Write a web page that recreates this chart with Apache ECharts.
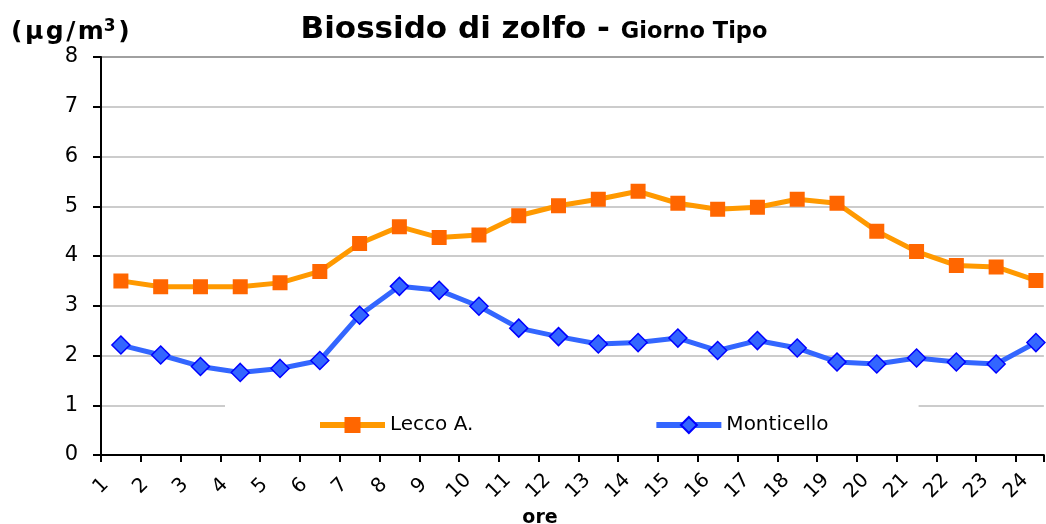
<!DOCTYPE html>
<html>
<head>
<meta charset="utf-8">
<script src="https://cdn.jsdelivr.net/npm/echarts@6/dist/echarts.min.js"></script>
<style>html,body{margin:0;padding:0;background:#fff;}#c{width:1046px;height:524px;}</style>
</head>
<body>
<div id="c"></div>
<script>
const hours = [1,2,3,4,5,6,7,8,9,10,11,12,13,14,15,16,17,18,19,20,21,22,23,24];
const lecco = [3.50,3.38,3.38,3.38,3.46,3.69,4.25,4.59,4.37,4.42,4.81,5.01,5.14,5.30,5.06,4.94,4.98,5.14,5.06,4.50,4.09,3.81,3.78,3.51];
const monticello = [2.21,2.01,1.78,1.66,1.74,1.90,2.81,3.39,3.31,2.99,2.55,2.38,2.23,2.26,2.35,2.10,2.30,2.15,1.87,1.83,1.95,1.87,1.83,2.26];
const yTicks = [0,1,2,3,4,5,6,7,8];

const FONT = '"DejaVu Sans", Verdana, sans-serif';
const squareX = 'path://M0,0L10,0L10,10L0,10Z' +
  'M3.2,3.85L3.85,3.2L5,4.35L6.15,3.2L6.8,3.85L5.65,5L6.8,6.15L6.15,6.8L5,5.65L3.85,6.8L3.2,6.15L4.35,5Z';
const HS = '\u200A';
const splitColors = yTicks.map(v => v === 8 ? '#808080' : '#bbbbbb');

const chart = echarts.init(document.getElementById('c'), null, {renderer: 'canvas'});
chart.setOption({
  backgroundColor: '#fff',
  animation: false,
  title: [
    {
      text: '{a|Biossido di zolfo - }{b|Giorno Tipo}',
      left: 529, top: 9, textAlign: 'center',
      textStyle: {
        rich: {
          a: {fontFamily: FONT, fontWeight: 'bold', fontSize: 31, color: '#000'},
          b: {fontFamily: FONT, fontWeight: 'bold', fontSize: 22.5, color: '#000', padding: [5,0,0,0]}
        }
      }
    },
    {
      text: '{t|(' + HS + 'µ' + HS + 'g' + HS + '/' + HS + 'm}{s|3}{t|' + HS + ')}',
      left: 6, top: 13,
      textStyle: {
        rich: {
          t: {fontFamily: FONT, fontWeight: 'bold', fontSize: 25, color: '#000'},
          s: {fontFamily: FONT, fontWeight: 'bold', fontSize: 17, color: '#000', padding: [0,0,12,0]}
        }
      }
    },
    {
      text: 'ore',
      left: 535, top: 504, textAlign: 'center',
      textStyle: {fontFamily: FONT, fontWeight: 'bold', fontSize: 19, color: '#000'}
    }
  ],
  legend: {
    left: 225, top: 391,
    padding: [24, 90, 10, 92],
    backgroundColor: '#fff',
    itemWidth: 65, itemHeight: 20,
    itemGap: 180,
    lineStyle: {width: 6},
    textStyle: {fontFamily: FONT, fontSize: 20, color: '#000'},
    data: ['Lecco A.', 'Monticello']
  },
  grid: {left: 101, right: 0, top: 57, height: 398, containLabel: false},
  xAxis: {
    type: 'value', min: 1, max: 24.7, interval: 1,
    axisLine: {show: true, lineStyle: {color: '#000', width: 2}},
    axisTick: {show: true, length: 7, lineStyle: {color: '#000', width: 2}},
    splitLine: {show: false},
    axisLabel: {
      rotate: 45, margin: 31, align: 'center', verticalAlign: 'middle',
      fontFamily: FONT, fontSize: 20, color: '#000',
      formatter: v => (Number.isInteger(v) && hours.indexOf(v) >= 0) ? String(v) : ''
    }
  },
  yAxis: {
    type: 'value', min: 0, max: 8, interval: 1,
    axisLine: {show: true, lineStyle: {color: '#000', width: 2}},
    axisTick: {show: true, length: 8, lineStyle: {color: '#000', width: 2}},
    splitLine: {show: true, lineStyle: {color: splitColors, width: 1.5}},
    axisLabel: {
      margin: 23, fontFamily: FONT, fontSize: 21, color: '#000',
      formatter: v => yTicks.indexOf(v) >= 0 ? String(v) : ''
    }
  },
  series: [
    {
      name: 'Lecco A.', type: 'line',
      data: hours.map((h, i) => [h + 0.5, lecco[i]]),
      lineStyle: {color: '#FF9900', width: 5},
      itemStyle: {color: '#FF6600'},
      symbol: squareX, symbolSize: 15, showAllSymbol: true,
      z: 3
    },
    {
      name: 'Monticello', type: 'line',
      data: hours.map((h, i) => [h + 0.5, monticello[i]]),
      lineStyle: {color: '#3366FF', width: 5},
      itemStyle: {color: '#3366FF', borderColor: '#0000FF', borderWidth: 1.5},
      symbol: 'diamond', symbolSize: [18, 18], showAllSymbol: true,
      z: 3
    }
  ]
});
</script>
</body>
</html>
